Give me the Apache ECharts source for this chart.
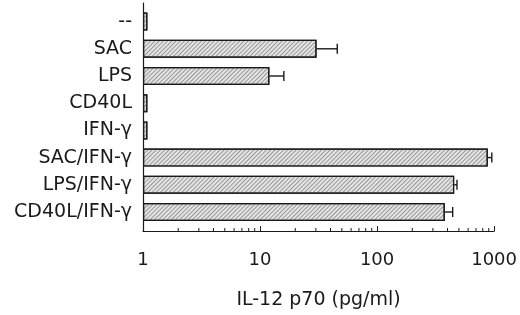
<!DOCTYPE html>
<html>
<head>
<meta charset="utf-8">
<script src="https://cdn.jsdelivr.net/npm/echarts@6/dist/echarts.min.js"></script>
<style>
  html, body { margin: 0; padding: 0; background: #fff; }
  #chart { width: 520px; height: 315px; }
</style>
</head>
<body>
<div id="chart"></div>
<script>
  var categories = ['--', 'SAC', 'LPS', 'CD40L', 'IFN-\u03b3', 'SAC/IFN-\u03b3', 'LPS/IFN-\u03b3', 'CD40L/IFN-\u03b3'];
  var means = [1.09, 30, 11.9, 1.09, 1.09, 860, 445, 370];
  var upper = [null, 45, 15.8, null, null, 930, 470, 432];
  var minorTicks = [2, 3, 4, 5, 6, 7, 8, 9, 20, 30, 40, 50, 60, 70, 80, 90, 200, 300, 400, 500, 600, 700, 800, 900];
  var axisName = 'IL-12 p70 (pg/ml)';

  var font = 'DejaVu Sans';
  var ink = '#1a1a1a';

  var chart = echarts.init(document.getElementById('chart'));

  var errData = [];
  for (var i = 0; i < categories.length; i++) {
    if (upper[i] != null) errData.push([means[i], upper[i], categories[i]]);
  }

  var option = {
    animation: false,
    backgroundColor: '#fff',
    grid: [
      { left: 143, width: 352.5, top: 8, height: 217.6 },
      { left: 143, width: 352.5, top: 3, height: 228 }
    ],
    xAxis: [
      { type: 'log', gridIndex: 0, min: 1, max: 1000, logBase: 10, show: false },
      {
        type: 'log', gridIndex: 1, min: 1, max: 1000, logBase: 10,
        name: axisName, nameLocation: 'middle', nameGap: 60,
        nameTextStyle: { fontFamily: font, fontSize: 19, color: ink },
        axisLine: { lineStyle: { color: ink, width: 1.2 } },
        axisTick: { inside: true, length: 5, lineStyle: { color: ink, width: 1 } },
        axisLabel: {
          fontFamily: font, fontSize: 18, color: ink, margin: 20,
          formatter: function (v) { return String(v); }
        },
        splitLine: { show: false }
      }
    ],
    yAxis: [
      {
        type: 'category', gridIndex: 0, data: categories, inverse: true,
        axisLine: { show: false },
        axisTick: { show: false },
        axisLabel: { fontFamily: font, fontSize: 19, color: ink, margin: 11 }
      },
      {
        type: 'value', gridIndex: 1, min: 0, max: 1,
        axisLine: { show: true, lineStyle: { color: ink, width: 1.2 } },
        axisTick: { show: false },
        axisLabel: { show: false },
        splitLine: { show: false }
      }
    ],
    series: [
      {
        type: 'bar',
        xAxisIndex: 0, yAxisIndex: 0,
        data: means,
        barWidth: 18,
        itemStyle: {
          color: '#e4e4e4',
          borderColor: ink,
          borderWidth: 1.2,
          decal: {
            symbol: 'rect',
            symbolSize: 1,
            dashArrayX: [1, 0],
            dashArrayY: [1, 2],
            rotation: -Math.PI / 4,
            color: 'rgba(90,90,90,0.55)'
          }
        }
      },
      {
        type: 'custom',
        xAxisIndex: 0, yAxisIndex: 0,
        data: errData,
        encode: { x: [0, 1], y: 2 },
        renderItem: function (params, api) {
          var a = api.coord([api.value(0), api.value(2)]);
          var b = api.coord([api.value(1), api.value(2)]);
          var h = 5;
          var style = { stroke: ink, lineWidth: 1.4 };
          return {
            type: 'group',
            children: [
              { type: 'line', shape: { x1: a[0], y1: a[1], x2: b[0], y2: b[1] }, style: style },
              { type: 'line', shape: { x1: b[0], y1: b[1] - h, x2: b[0], y2: b[1] + h }, style: style }
            ]
          };
        },
        z: 3
      },
      {
        type: 'custom',
        xAxisIndex: 1, yAxisIndex: 1,
        data: minorTicks.map(function (v) { return [v, 0]; }),
        renderItem: function (params, api) {
          var p = api.coord([api.value(0), api.value(1)]);
          return {
            type: 'line',
            shape: { x1: p[0], y1: p[1], x2: p[0], y2: p[1] - 3 },
            style: { stroke: ink, lineWidth: 1 }
          };
        }
      }
    ]
  };

  chart.setOption(option);
</script>
</body>
</html>
